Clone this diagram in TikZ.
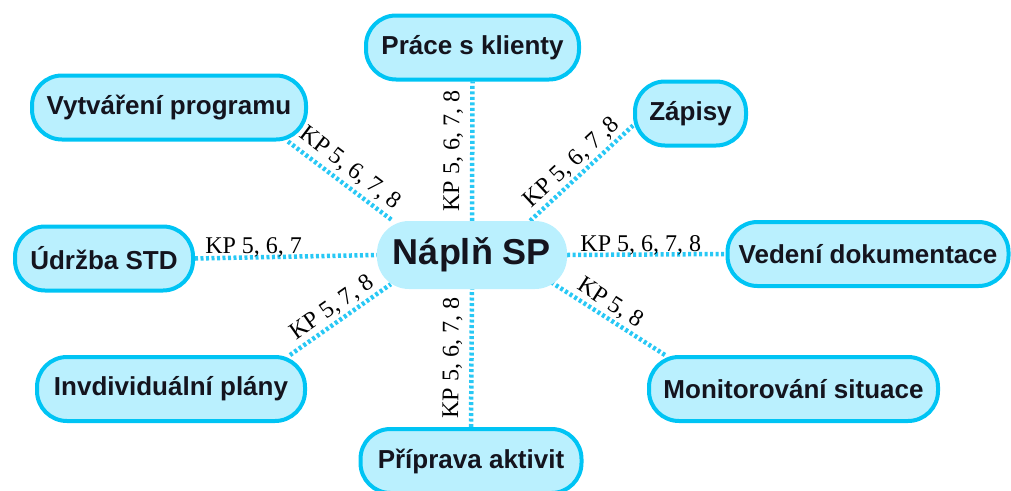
\documentclass[tikz,border=0pt]{standalone}
\usepackage{fontspec}
\setmainfont{Liberation Serif}
\newfontfamily\boxfont{Liberation Sans}
\usetikzlibrary{calc}
\pgfdeclarelayer{links}
\pgfsetlayers{links,main}
\definecolor{rim}{RGB}{0,196,244}
\definecolor{pale}{RGB}{186,240,254}
\definecolor{dots}{RGB}{40,200,245}
\definecolor{ink}{RGB}{20,20,30}
\begin{document}
\begin{tikzpicture}[x=1pt,y=-1pt,
  topic/.style={draw=rim, line width=4pt, fill=pale, rounded corners=30pt,
    minimum height=64pt, inner sep=0pt, text=ink,
    font=\boxfont\bfseries\fontsize{26}{30}\selectfont},
  hub/.style={fill=pale, rounded corners=32pt, minimum width=190pt,
    minimum height=68pt, inner sep=0pt, text=ink,
    font=\boxfont\bfseries\fontsize{36}{40}\selectfont},
  link/.style={draw=dots, line width=4.5pt, dash pattern=on 3pt off 2.5pt},
  kp/.style={font=\fontsize{24}{28}\selectfont, inner sep=2pt, text=black}]
\useasboundingbox (0,0) rectangle (1011,490);

% central topic and the eight areas around it
\node[hub] (nap) at (472,255) {Náplň SP};
\node[topic, minimum width=213pt] (pra) at (472.5,47.5) {Práce s klienty};
\node[topic, minimum width=274pt] (vyt) at (169,107.5) {Vytváření programu};
\node[topic, minimum width=111pt] (zap) at (690.5,113.5) {Zápisy};
\node[topic, minimum width=178pt] (udr) at (104,258.5) {Údržba STD};
\node[topic, minimum width=281pt] (ved) at (868,254) {Vedení dokumentace};
\node[topic, minimum width=268pt] (inv) at (171,389) {Invdividuální plány};
\node[topic, minimum width=289pt] (mon) at (793.5,389) {Monitorování situace};
\node[topic, minimum width=221pt] (pri) at (471,461) {Příprava aktivit};

% dotted links with their KP labels, kept behind the boxes
\begin{pgfonlayer}{links}
\draw[link] ([xshift=-20pt]vyt.south east)
  -- node[kp, sloped, above=2pt] {KP 5, 6, 7, 8} ([xshift=16pt]nap.north west);
\draw[link] (nap.north)
  -- node[kp, sloped, above=5pt] {KP 5, 6, 7, 8} (pra.south);
\draw[link] ([xshift=-37pt]nap.north east)
  -- node[kp, sloped, above] {KP 5, 6, 7 ,8} ([yshift=-12pt]zap.west);
\draw[link] (udr.east)
  -- node[kp, pos=0, anchor=base west, xshift=6pt, yshift=5pt] {KP 5, 6, 7} (nap.west);
\draw[link] (nap.east)
  -- node[kp, pos=0, anchor=base west, xshift=9pt, yshift=4pt] {KP 5, 6, 7, 8} (ved.west);
\draw[link] ($(nap.south east)+(-16,-7)$)
  -- node[kp, sloped, above, pos=0.45] {KP 5, 8} ([xshift=18pt]mon.north west);
\draw[link] ([xshift=-17pt]inv.north east)
  -- node[kp, sloped, above] {KP 5, 7, 8} ($(nap.south west)+(14,-5)$);
\draw[link] (pri.north)
  -- node[kp, sloped, above=5pt] {KP 5, 6, 7, 8} (nap.south);
\end{pgfonlayer}
\end{tikzpicture}
\end{document}
